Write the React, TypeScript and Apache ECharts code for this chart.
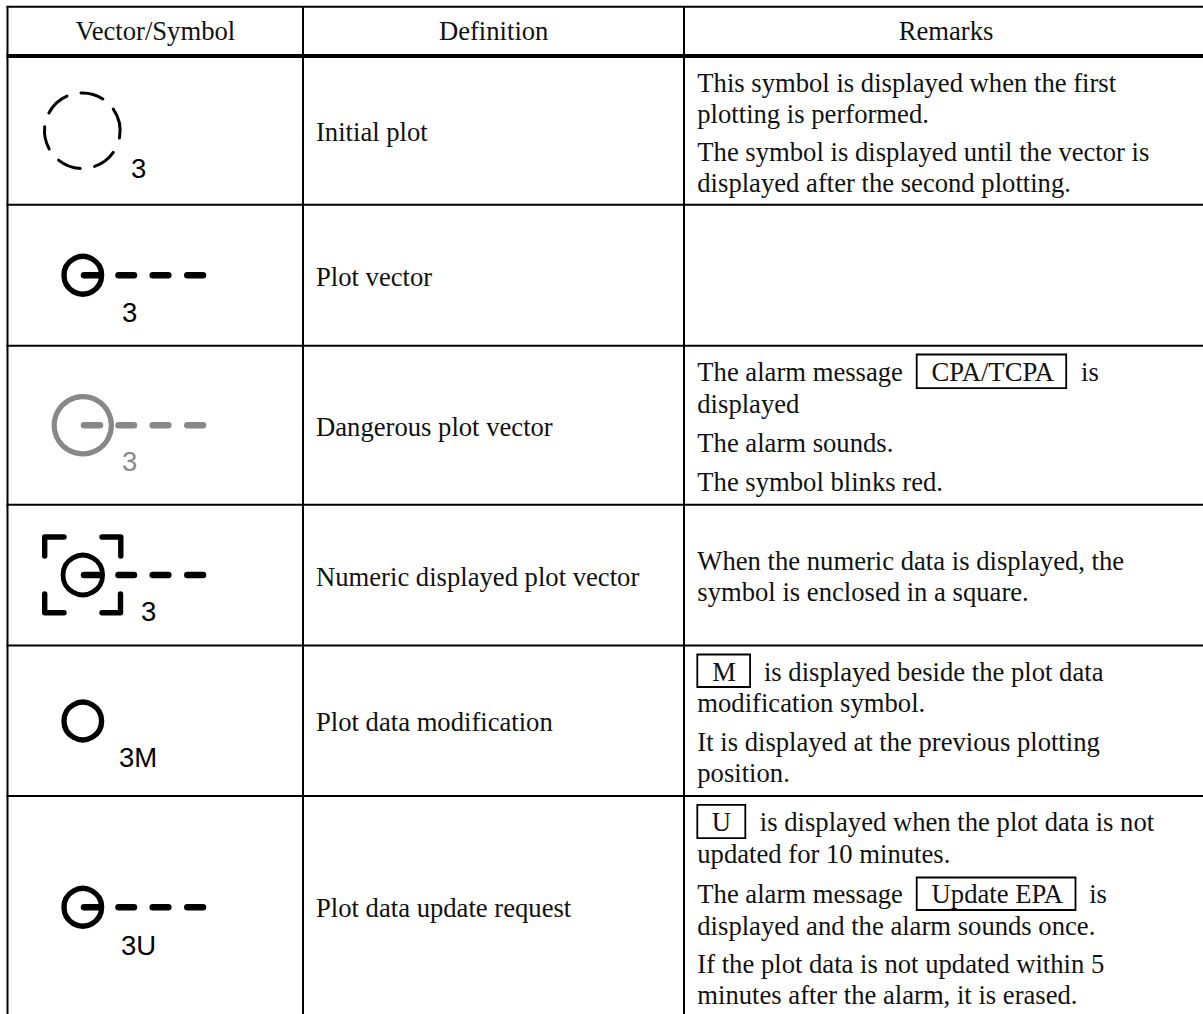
import React, { useEffect, useRef } from "react";
import * as echarts from "echarts";

const headers = ["Vector/Symbol", "Definition", "Remarks"];
const definitions = [
  "Initial plot",
  "Plot vector",
  "Dangerous plot vector",
  "Numeric displayed plot vector",
  "Plot data modification",
  "Plot data update request",
];
const symbolLabels = ["3", "3", "3", "3", "3M", "3U"];
const remarkLines = [
  "This symbol is displayed when the first",
  "plotting is performed.",
  "The symbol is displayed until the vector is",
  "displayed after the second plotting.",
  "The alarm message",
  "is",
  "displayed",
  "The alarm sounds.",
  "The symbol blinks red.",
  "When the numeric data is displayed, the",
  "symbol is enclosed in a square.",
  "is displayed beside the plot data",
  "modification symbol.",
  "It is displayed at the previous plotting",
  "position.",
  "is displayed when the plot data is not",
  "updated for 10 minutes.",
  "The alarm message",
  "is",
  "displayed and the alarm sounds once.",
  "If the plot data is not updated within 5",
  "minutes after the alarm, it is erased.",
];
const boxedWords = ["CPA/TCPA", "M", "U", "Update EPA"];

const W = 1203;
const H = 1014;
const SERIF = 26.65;
const SANS = 27.5;
const BLACK = "#000";
const TEXT = "#111";
const GRAY = "#888";

function serif(text: string, x: number, base: number, align = "left") {
  return {
    type: "text",
    silent: true,
    style: {
      text,
      x,
      y: base - 0.3375 * SERIF,
      fill: TEXT,
      font: `${SERIF}px "Liberation Serif"`,
      align,
      verticalAlign: "middle",
    },
  };
}
function sans(text: string, x: number, base: number, fill = BLACK) {
  return {
    type: "text",
    silent: true,
    style: {
      text,
      x,
      y: base - 0.345 * SANS,
      fill,
      font: `${SANS}px "Liberation Sans"`,
      align: "left",
      verticalAlign: "middle",
    },
  };
}
function line(x1: number, y1: number, x2: number, y2: number, lw: number, stroke = BLACK, cap = "butt") {
  return {
    type: "line",
    silent: true,
    shape: { x1, y1, x2, y2 },
    style: { stroke, lineWidth: lw, lineCap: cap },
  };
}
function box(x1: number, y1: number, x2: number, y2: number) {
  return {
    type: "rect",
    silent: true,
    shape: { x: x1, y: y1, width: x2 - x1, height: y2 - y1 },
    style: { fill: "none", stroke: BLACK, lineWidth: 1.8 },
  };
}
function plotSymbol(cy: number, r: number, lw: number, stroke: string, vector: boolean) {
  const cx = 82.8;
  const out: any[] = [
    {
      type: "circle",
      silent: true,
      shape: { cx, cy, r },
      style: { fill: "none", stroke, lineWidth: lw },
    },
  ];
  if (vector) {
    for (const [a, b] of [
      [84, 100],
      [118.5, 134],
      [152.7, 168.3],
      [187.3, 203],
    ]) {
      out.push(line(a, cy, b, cy, 6.5, stroke, "round"));
    }
  }
  return out;
}
function corner(points: number[][]) {
  return {
    type: "polyline",
    silent: true,
    shape: { points },
    style: { fill: "none", stroke: BLACK, lineWidth: 5.4, lineCap: "round", lineJoin: "round" },
  };
}
function dashArc(a: number, b: number) {
  return {
    type: "arc",
    silent: true,
    shape: {
      cx: 82.3,
      cy: 130.7,
      r: 37.8,
      startAngle: (a * Math.PI) / 180,
      endAngle: (b * Math.PI) / 180,
      clockwise: true,
    },
    style: { fill: "none", stroke: BLACK, lineWidth: 3, lineCap: "round" },
  };
}

function build() {
  const g: any[] = [];
  g.push({ type: "rect", silent: true, shape: { x: 0, y: 0, width: W, height: H }, style: { fill: "#fff" } });

  // grid
  for (const x of [7.5, 303, 684]) g.push(line(x, 6, x, H, 2));
  g.push(line(6.5, 6.8, W, 6.8, 2));
  g.push(line(6.5, 56, W, 56, 3.8));
  for (const y of [204.7, 345.7, 504.7, 645.4, 796]) g.push(line(6.5, y, W, y, 2));

  // headers
  g.push(serif(headers[0], 155.3, 40.3, "center"));
  g.push(serif(headers[1], 493.7, 40.3, "center"));
  g.push(serif(headers[2], 946, 40.3, "center"));

  // definitions
  const defBase = [140.6, 285.6, 435.6, 585.6, 730.6, 916.6];
  definitions.forEach((d, i) => g.push(serif(d, 316, defBase[i])));

  // remarks
  const R = 697.3;
  const rem: [number, number][] = [
    [R, 91.6], [R, 122.6], [R, 160.6], [R, 191.6],
    [R, 381], [1081, 381], [R, 413], [R, 451.6], [R, 490.6],
    [R, 569.6], [R, 600.6],
    [763.9, 681], [R, 712], [R, 751], [R, 782],
    [759.8, 831], [R, 862.6], [R, 903], [1089.2, 903], [R, 935], [R, 973], [R, 1003.6],
  ];
  remarkLines.forEach((t, i) => g.push(serif(t, rem[i][0], rem[i][1])));

  // boxed words
  g.push(box(916.7, 354.5, 1066.2, 388.2), serif(boxedWords[0], 931.6, 381));
  g.push(box(697.3, 654.5, 750.1, 687), serif(boxedWords[1], 712.2, 681));
  g.push(box(697.3, 804.8, 745.3, 838.2), serif(boxedWords[2], 711.8, 831));
  g.push(box(916.7, 877.5, 1075.5, 910), serif(boxedWords[3], 931.6, 903));

  // row 1 dashed circle
  for (const [a, b] of [
    [208, 246], [268, 303], [325, 371], [395, 431], [453, 489], [511, 546],
  ]) g.push(dashArc(a, b));
  g.push(sans(symbolLabels[0], 131, 178));

  // row 2
  g.push(...plotSymbol(275.3, 18.8, 5.4, BLACK, true), sans(symbolLabels[1], 122, 321.7));
  // row 3
  g.push(...plotSymbol(425.3, 28.6, 5.2, GRAY, true), sans(symbolLabels[2], 122, 471, GRAY));
  // row 4
  g.push(...plotSymbol(575, 19.8, 4.8, BLACK, true), sans(symbolLabels[3], 141, 621));
  g.push(corner([[64, 537], [44.7, 537], [44.7, 556]]));
  g.push(corner([[102, 537], [120.8, 537], [120.8, 556]]));
  g.push(corner([[44.7, 594], [44.7, 612.8], [64, 612.8]]));
  g.push(corner([[102, 612.8], [120.5, 612.8], [120.5, 594]]));
  // row 5
  g.push(...plotSymbol(721, 18.8, 5.4, BLACK, false), sans(symbolLabels[4], 119, 767.3));
  // row 6
  g.push(...plotSymbol(907.3, 18.8, 5.4, BLACK, true), sans(symbolLabels[5], 121, 954.7));
  return g;
}

export default function App() {
  const ref = useRef<HTMLDivElement>(null);
  useEffect(() => {
    const chart = echarts.init(ref.current!, null, { renderer: "svg" });
    chart.setOption({ animation: false, backgroundColor: "#fff", graphic: { elements: build() } });
    return () => chart.dispose();
  }, []);
  return <div ref={ref} style={{ position: "absolute", left: 0, top: 0, width: W, height: H }} />;
}
